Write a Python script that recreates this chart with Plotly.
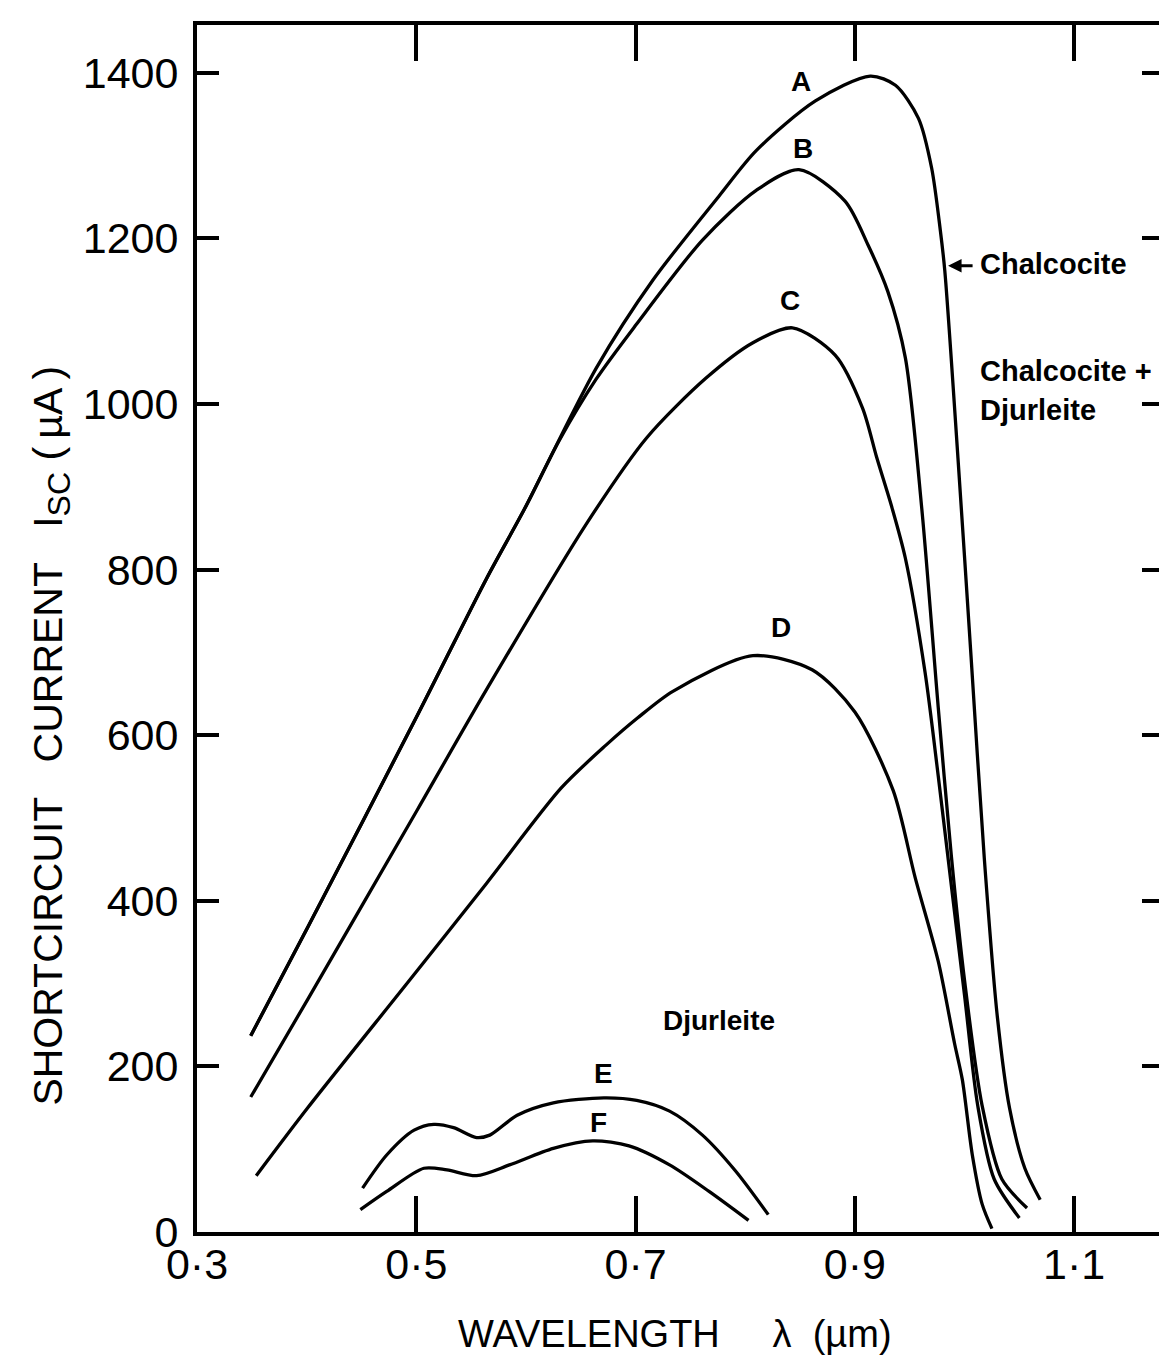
import plotly.graph_objects as go

# ---------------- data ----------------
wl_A = [0.349, 0.401, 0.501, 0.564, 0.599, 0.664, 0.716, 0.776, 0.810, 0.864, 0.914, 0.937,
        0.958, 0.970, 0.978, 0.982, 0.994, 1.006, 1.018, 1.030, 1.041, 1.055, 1.069]
isc_A = [237, 368, 624, 789, 874, 1043, 1150, 1251, 1306, 1366, 1396, 1385,
         1345, 1285, 1209, 1161, 935, 694, 452, 259, 150, 77, 39]

wl_B = [0.349, 0.401, 0.501, 0.564, 0.599, 0.630, 0.664, 0.700, 0.761, 0.810, 0.849, 0.891,
        0.912, 0.930, 0.946, 0.961, 0.976, 0.988, 1.000, 1.016, 1.034, 1.057]
isc_B = [237, 368, 624, 789, 874, 955, 1030, 1095, 1198, 1258, 1283, 1245,
         1192, 1136, 1056, 874, 634, 454, 304, 153, 64, 29]

wl_C = [0.349, 0.401, 0.501, 0.564, 0.655, 0.710, 0.764, 0.807, 0.843, 0.882, 0.907, 0.920,
        0.934, 0.946, 0.964, 0.976, 0.988, 1.000, 1.012, 1.027, 1.050]
isc_C = [163, 281, 510, 655, 855, 959, 1031, 1074, 1092, 1059, 995, 935,
         874, 814, 676, 551, 418, 286, 153, 64, 17]

wl_D = [0.354, 0.401, 0.492, 0.564, 0.632, 0.673, 0.702, 0.734, 0.807, 0.861, 0.900, 0.935,
        0.955, 0.976, 0.991, 0.998, 1.007, 1.016, 1.025]
isc_D = [68, 150, 301, 421, 536, 588, 621, 653, 696, 679, 628, 533,
         428, 327, 227, 184, 94, 34, 4]

wl_E = [0.451, 0.473, 0.498, 0.516, 0.534, 0.555, 0.567, 0.592, 0.625, 0.671, 0.701, 0.731,
        0.761, 0.791, 0.821]
isc_E = [53, 93, 123, 130, 126, 114, 117, 141, 156, 162, 159, 146, 117, 74, 21]

wl_F = [0.449, 0.473, 0.507, 0.528, 0.555, 0.585, 0.625, 0.661, 0.694, 0.731, 0.767, 0.803]
isc_F = [27, 49, 77, 75, 68, 81, 101, 110, 104, 81, 49, 14]

x_tickvals = [0.3, 0.5, 0.7, 0.9, 1.1]
x_ticktext = ["0·3", "0·5", "0·7", "0·9", "1·1"]
y_tickvals = [0, 200, 400, 600, 800, 1000, 1200, 1400]
y_ticktext = ["0", "200", "400", "600", "800", "1000", "1200", "1400"]

# curve labels: (text, wavelength, current)
curve_labels = [("A", 0.851, 1390), ("B", 0.853, 1308), ("C", 0.841, 1125),
                ("D", 0.833, 730), ("E", 0.671, 192), ("F", 0.666, 132)]
region_labels = [("Djurleite", 0.776, 256)]

# ---------------- figure ----------------
W, H = 1167, 1356
L, R, T, B = 189, 1160, 17, 1224   # plot-area pixel box

fig = go.Figure()
for wl, isc in [(wl_A, isc_A), (wl_B, isc_B), (wl_C, isc_C), (wl_D, isc_D),
                (wl_E, isc_E), (wl_F, isc_F)]:
    fig.add_trace(go.Scatter(x=wl, y=isc, mode="lines",
                             line=dict(color="black", width=3.3, shape="spline", smoothing=0.8),
                             showlegend=False, hoverinfo="skip"))

label_font = dict(family="Liberation Sans, Arial, sans-serif", size=28, color="black", weight="bold")
for txt, xv, yv in curve_labels + region_labels:
    fig.add_annotation(x=xv, y=yv, xref="x", yref="y", text=txt, showarrow=False,
                       font=label_font, xanchor="center", yanchor="middle")


def px2paper(px, py):
    return (px - L) / (R - L), (B - py) / (B - T)


# Chalcocite label with arrow
fig.add_annotation(x=0.985, y=1167, xref="x", yref="y", text="", showarrow=True,
                   ax=26, ay=0, axref="pixel", ayref="pixel",
                   arrowhead=2, arrowsize=0.9, arrowwidth=3, arrowcolor="black")
for txt, px, py in [("Chalcocite", 973, 256), ("Chalcocite +", 973, 363), ("Djurleite", 973, 402)]:
    xp, yp = px2paper(px, py)
    fig.add_annotation(x=xp, y=yp, xref="paper", yref="paper", text=txt, showarrow=False,
                       font=dict(family="Liberation Sans, Arial, sans-serif", size=29,
                                 color="black", weight="bold"),
                       xanchor="left", yanchor="middle")

# axis titles
nb = "\u00a0"
xp, yp = px2paper(669, 1326)
fig.add_annotation(x=xp, y=yp, xref="paper", yref="paper",
                   text="WAVELENGTH" + nb * 5 + "λ" + nb * 2 + "(µm)", showarrow=False,
                   font=dict(family="Liberation Sans, Arial, sans-serif", size=38, color="black"),
                   xanchor="center", yanchor="middle")
xp, yp = px2paper(42, 728)
fig.add_annotation(x=xp, y=yp, xref="paper", yref="paper", textangle=-90,
                   text="SHORTCIRCUIT" + nb * 3 + "CURRENT" + nb * 3 + "I"
                        + "<sub><span style='font-size:32px'>SC</span></sub>"
                        + nb + "(\u2009µA\u2009)",
                   showarrow=False,
                   font=dict(family="Liberation Sans, Arial, sans-serif", size=41, color="black"),
                   xanchor="center", yanchor="middle")

tick_font = dict(family="Liberation Sans Narrow, Liberation Sans, Arial, sans-serif", size=43, color="black")
fig.update_xaxes(range=[0.3, 0.3 + (R - L) / 1101], showgrid=False, zeroline=False,
                 showline=True, linewidth=4, linecolor="black", mirror="ticks",
                 ticks="inside", ticklen=36, tickwidth=4, tickcolor="black",
                 tickvals=x_tickvals, ticktext=x_ticktext, tickfont=tick_font,
                 ticklabelstandoff=-9)
fig.update_yaxes(range=[0, (B - T) / 0.828], showgrid=False, zeroline=False,
                 showline=True, linewidth=4, linecolor="black", mirror="ticks",
                 ticks="inside", ticklen=22, tickwidth=4, tickcolor="black",
                 tickvals=y_tickvals, ticktext=y_ticktext, tickfont=tick_font,
                 ticklabelstandoff=6)

fig.update_layout(width=W, height=H, margin=dict(l=L, r=W - R, t=T, b=H - B),
                  plot_bgcolor="white", paper_bgcolor="white")

fig.write_html("out.html")
